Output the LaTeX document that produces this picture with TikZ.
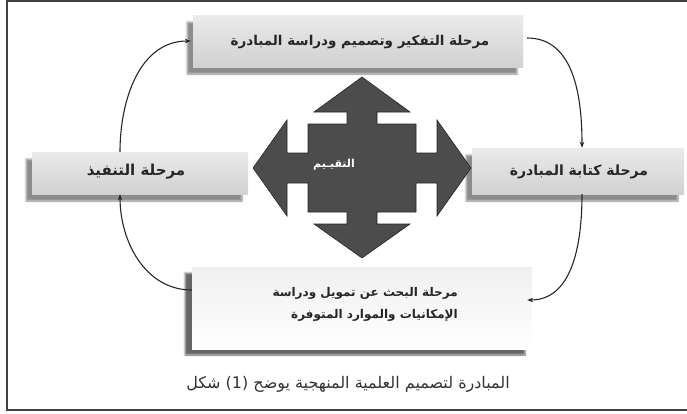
\documentclass[tikz,border=0pt]{standalone}
\usepackage{fontspec}
\usetikzlibrary{arrows.meta,shadows.blur,calc}
\newfontfamily\arabicfont[Script=Arabic]{DejaVu Sans}
\TeXXeTstate=1
\newcommand{\rw}[1]{\beginR #1\endR}
\begin{document}
\begin{tikzpicture}[x=1pt,y=-1pt,
  stagebox/.style={draw=none, top color=gray!16, bottom color=gray!36,
    inner sep=0pt, blur shadow={shadow xshift=-6pt, shadow yshift=-7pt, shadow opacity=45, shadow blur steps=6}},
  lowbox/.style={draw=none, top color=gray!12, bottom color=white, inner sep=0pt,
    blur shadow={shadow xshift=-7pt, shadow yshift=-6pt, shadow opacity=60, shadow blur steps=6}},
  lbl/.style={font=\arabicfont\bfseries, text=black!85, inner sep=0pt},
  flow/.style={-{Stealth[length=6pt,width=4.5pt]}, line width=1.1pt, draw=black!85},
  frameline/.style={draw=black!75, line width=1.4pt}
]
\useasboundingbox (0,0) rectangle (687,413);
% frame
\draw[frameline] (687,1) -- (7,1) -- (7,410) -- (687,410);

% boxes
\node[stagebox, minimum width=330, minimum height=52] (tbox) at (358,41) {};
\node[stagebox, minimum width=216, minimum height=42] (lbox) at (140,173) {};
\node[stagebox, minimum width=212, minimum height=46] (rbox) at (578,171) {};
\node[lowbox, minimum width=340, minimum height=82] (bbox) at (362,308) {};

% texts
\node[lbl, font=\arabicfont\bfseries\fontsize{13.5}{16}\selectfont] (ttext) at (360,42) {\beginR مرحلة التفكير وتصميم ودراسة المبادرة\endR};
\node[lbl, font=\arabicfont\bfseries\fontsize{15}{17}\selectfont] (ltext) at (136,172) {\beginR مرحلة التنفيذ\endR};
\node[lbl, font=\arabicfont\bfseries\fontsize{14}{16}\selectfont] (rtext) at (579,172) {\beginR مرحلة كتابة المبادرة\endR};
\node[lbl, font=\arabicfont\bfseries\fontsize{12}{22}\selectfont, align=right, anchor=east] (btext) at (458,304)
  {\beginR مرحلة البحث عن تمويل ودراسة\endR\\ \beginR الإمكانيات والموارد المتوفرة\endR};

% central quad arrow
\filldraw[fill=black!70, draw=black!85, line width=0.6pt]
  (362,77) -- (410,112) -- (377,112) -- (377,124) -- (416,124) -- (416,153)
  -- (437,153) -- (437,120) -- (471,168) -- (437,216) -- (437,183) -- (416,183)
  -- (416,212) -- (377,212) -- (377,224) -- (410,224) -- (362,258) -- (314,224)
  -- (347,224) -- (347,212) -- (308,212) -- (308,183) -- (287,183) -- (287,216)
  -- (253,168) -- (287,120) -- (287,153) -- (308,153) -- (308,124) -- (347,124)
  -- (347,112) -- (314,112) -- cycle;
\node[font=\arabicfont\bfseries\fontsize{11}{13}\selectfont, text=white, inner sep=0pt] (eval) at (334,165) {\beginR التقيـيم\endR};

% connectors
\draw[flow] ([xshift=4pt,yshift=3pt]tbox.east) to[out=0,in=90] ([xshift=4pt]rbox.north);
\draw[flow] ([xshift=4pt]rbox.south) to[out=-90,in=0] ([xshift=-5pt,yshift=8pt]bbox.east);
\draw[flow] ([yshift=18pt]bbox.west) to[out=180,in=-90] ([xshift=-20pt]lbox.south);
\draw[flow] ([xshift=-20pt]lbox.north) to[out=90,in=180] ([xshift=-2pt]tbox.west);

% caption: the picture prints its words left to right, each word shaped right to left
\node[font=\arabicfont\fontsize{16}{18}\selectfont, text=black!80, inner sep=0pt] (cap) at (348,384)
  {\rw{شكل} (1) \rw{يوضح} \rw{المنهجية} \rw{العلمية} \rw{لتصميم} \rw{المبادرة}};
\end{tikzpicture}
\end{document}
